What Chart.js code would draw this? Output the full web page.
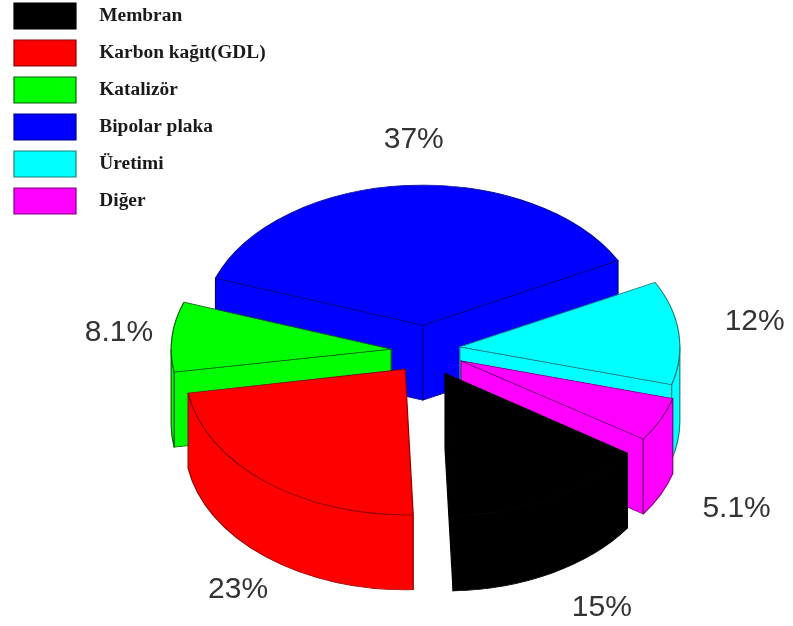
<!DOCTYPE html>
<html>
<head>
<meta charset="utf-8">
<title>Pie</title>
<script src="https://cdn.jsdelivr.net/npm/chart.js@4"></script>
<style>
html, body { margin: 0; padding: 0; background: #fff; }
canvas { display: block; }
</style>
</head>
<body>
<canvas id="myChart" width="793" height="626"></canvas>
<script>
// Values
var categories = ["Membran", "Karbon kağıt(GDL)", "Katalizör", "Bipolar plaka", "Üretimi", "Diğer"];
var shares = [15, 23, 8.1, 37, 12, 5.1];
var shareLabels = ["15%", "23%", "8.1%", "37%", "12%", "5.1%"];
var fillColors = ["#000000", "#ff0000", "#00ff00", "#0000ff", "#00ffff", "#ff00ff"];
var edgeColors = ["#000000", "#8a0000", "#0b5f0b", "#00008a", "#1d7f7f", "#7d007d"];

// Look of the tilted pie
var pieX = 425, pieY = 345;  // where the middle of the top face lands
var tilt = 0.636;            // vertical squash
var depth = 75;              // wall height on screen
var pull = 33;               // how far each slice is pulled out
// the original has some perspective: near slices sit lower and look taller
var sliceShift = [[4, 10], [1, 8], [-1, 6], [0, 1], [2, 4], [6, 7]];
var sliceGrow = [1.02, 1.04, 1, 1, 1, 1];
// label offset from the slice's rim, same order as categories
var labelNudge = [[54, 122], [-27, 120], [-54, 2], [6, -45], [78, -7], [82, 96]];

function wallFace(ctx, arc, color, edge, grow) {
    var drop = depth / tilt / grow;
    var R = arc.outerRadius;
    var s = arc.startAngle, e = arc.endAngle;
    ctx.fillStyle = color;
    ctx.strokeStyle = edge;
    ctx.lineWidth = 1.2;
    ctx.lineJoin = "round";

    function side(a) {
        ctx.beginPath();
        ctx.moveTo(arc.x, arc.y);
        ctx.lineTo(arc.x + Math.cos(a) * R, arc.y + Math.sin(a) * R);
        ctx.lineTo(arc.x + Math.cos(a) * R, arc.y + Math.sin(a) * R + drop);
        ctx.lineTo(arc.x, arc.y + drop);
        ctx.closePath();
        ctx.fill();
        ctx.stroke();
    }
    // only the cut faces turned towards the viewer
    if (Math.cos(s) < 0) side(s);
    if (Math.cos(e) > 0) side(e);

    // rim wall, only the part on the near half of the circle
    for (var k = -1; k < 3; k++) {
        var from = Math.max(s, k * 2 * Math.PI);
        var to = Math.min(e, k * 2 * Math.PI + Math.PI);
        if (to <= from) continue;
        ctx.beginPath();
        ctx.arc(arc.x, arc.y, R, from, to);
        ctx.arc(arc.x, arc.y + drop, R, to, from, true);
        ctx.closePath();
        ctx.fill();
        ctx.stroke();
    }
}

var tiltedPie = {
    id: "tiltedPie",
    afterLayout: function (chart) {
        chart.legend.top -= 8;
    },
    beforeDatasetDraw: function (chart, args) {
        var ctx = chart.ctx;
        var arcs = chart.getDatasetMeta(args.index).data;
        var first = arcs[0];

        var order = arcs.map(function (a, i) { return i; });
        order.sort(function (i, j) {
            var mi = (arcs[i].startAngle + arcs[i].endAngle) / 2;
            var mj = (arcs[j].startAngle + arcs[j].endAngle) / 2;
            return Math.sin(mi) - Math.sin(mj);
        });

        ctx.save();
        ctx.translate(pieX, pieY);
        ctx.scale(1, tilt);
        ctx.translate(-first.x, -first.y);
        order.forEach(function (i) {
            var arc = arcs[i];
            var mid = (arc.startAngle + arc.endAngle) / 2;
            ctx.save();
            ctx.translate(Math.cos(mid) * pull + sliceShift[i][0], Math.sin(mid) * pull + sliceShift[i][1] / tilt);
            ctx.translate(arc.x, arc.y);
            ctx.scale(1, sliceGrow[i]);
            ctx.translate(-arc.x, -arc.y);
            wallFace(ctx, arc, fillColors[i], edgeColors[i], sliceGrow[i]);
            arc.draw(ctx);
            ctx.restore();
        });
        ctx.restore();

        // percent labels
        ctx.save();
        ctx.font = "30px 'Liberation Sans'";
        ctx.fillStyle = "#333333";
        ctx.textAlign = "center";
        ctx.textBaseline = "middle";
        arcs.forEach(function (arc, i) {
            var mid = (arc.startAngle + arc.endAngle) / 2;
            var r = arc.outerRadius + pull;
            ctx.fillText(shareLabels[i],
                pieX + Math.cos(mid) * r + labelNudge[i][0],
                pieY + Math.sin(mid) * r * tilt + labelNudge[i][1]);
        });
        ctx.restore();
        return false;
    }
};

var ctx = document.getElementById("myChart");
var myChart = new Chart(ctx, {
    type: "pie",
    plugins: [tiltedPie],
    data: {
        labels: categories,
        datasets: [{
            data: shares,
            backgroundColor: fillColors,
            borderColor: edgeColors,
            borderWidth: 1.2
        }]
    },
    options: {
        responsive: false,
        animation: false,
        radius: 220,
        rotation: 124,
        layout: { padding: { left: 3 } },
        plugins: {
            tooltip: { enabled: false },
            legend: {
                position: "chartArea",
                align: "start",
                labels: {
                    boxWidth: 62,
                    boxHeight: 26,
                    padding: 11,
                    color: "#1a1a1a",
                    font: { family: "'Liberation Serif'", weight: "bold", size: 19.4 },
                    generateLabels: function (chart) {
                        // small gap keeps the names clear of the colour boxes
                        return Chart.overrides.pie.plugins.legend.labels.generateLabels(chart).map(function (item) {
                            item.text = "\u2002\u2009" + item.text;
                            return item;
                        });
                    }
                }
            }
        }
    }
});
</script>
</body>
</html>
